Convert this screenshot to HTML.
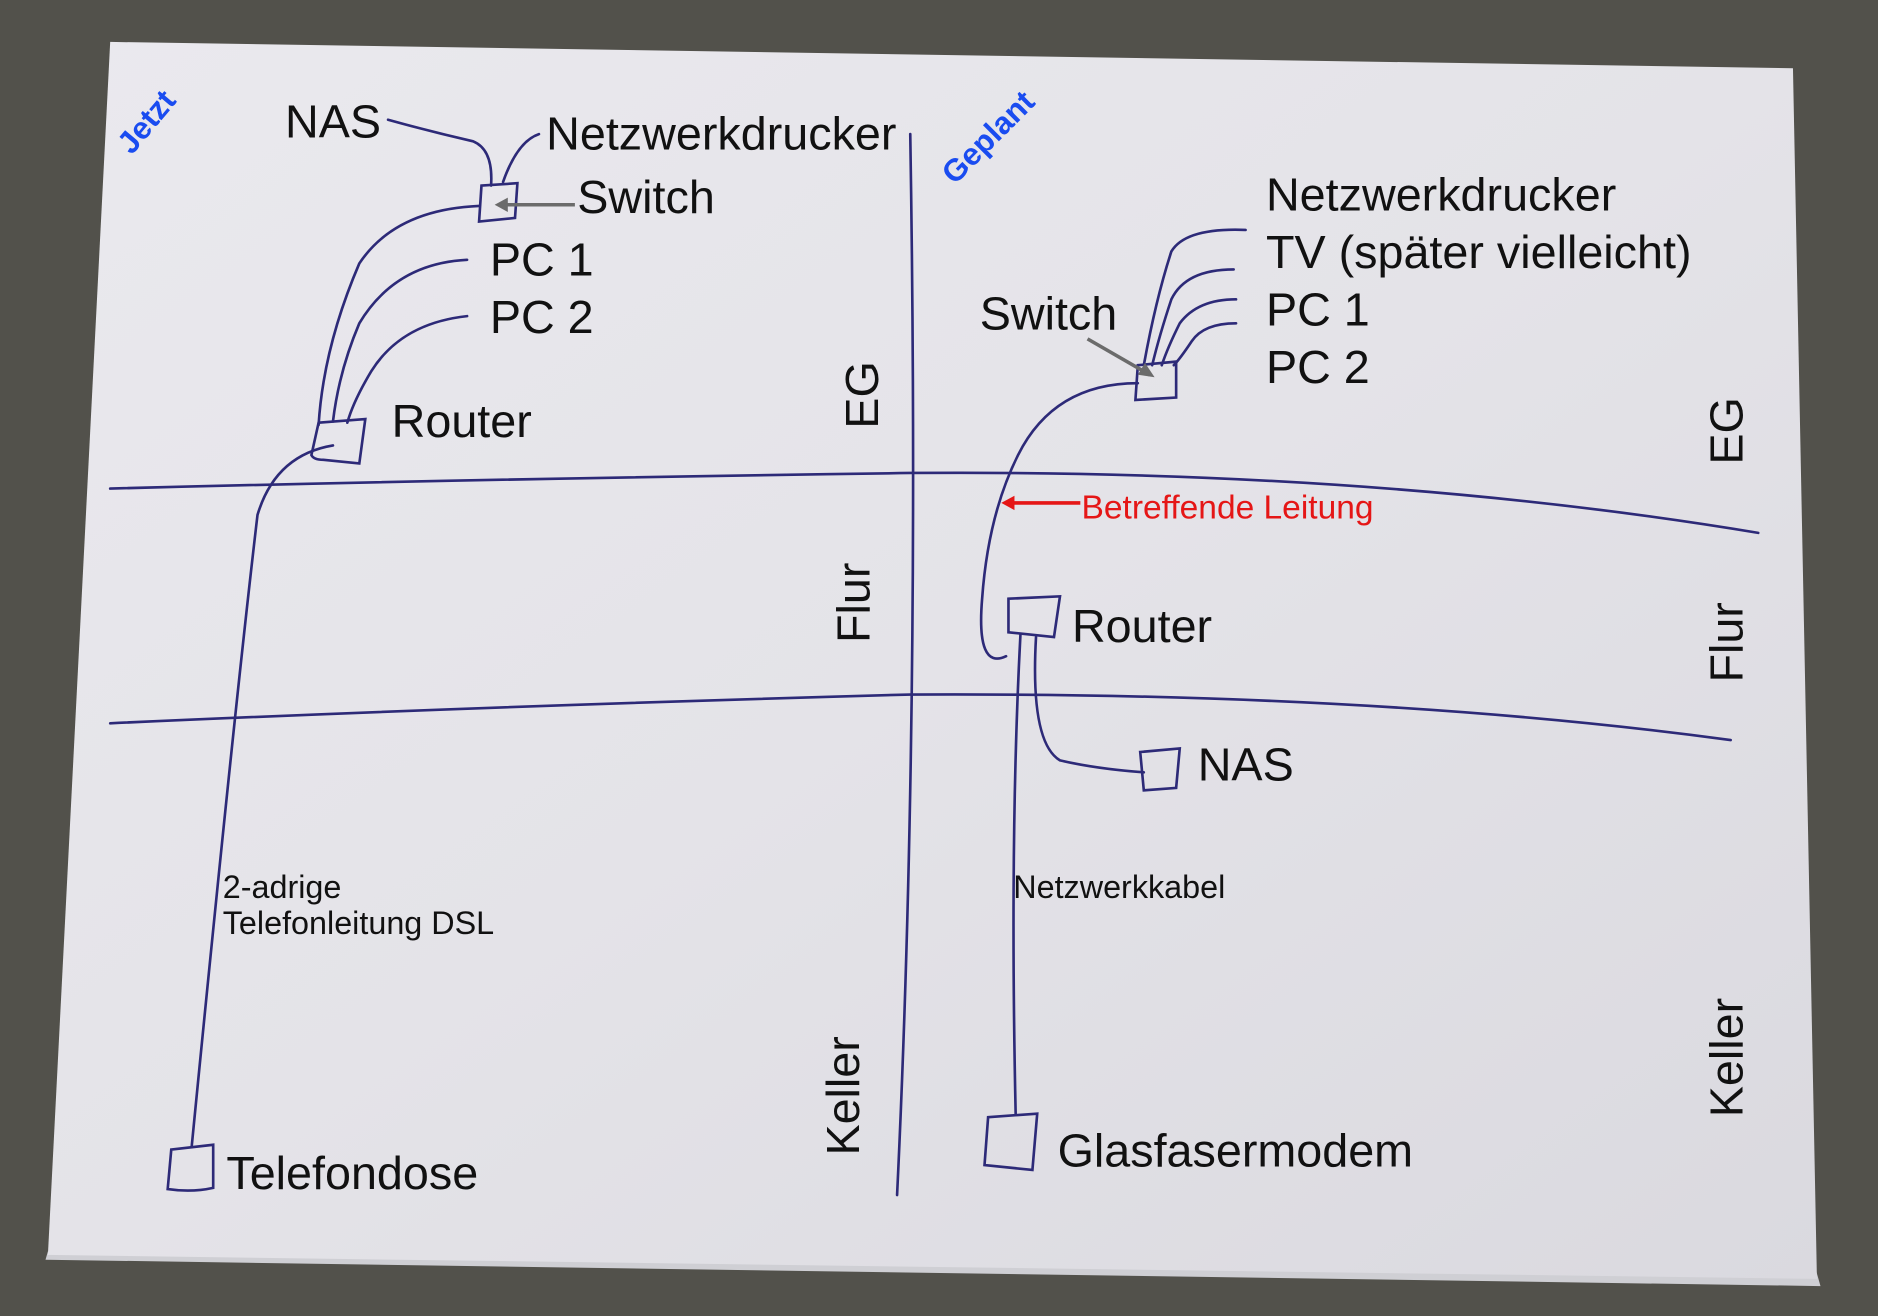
<!DOCTYPE html>
<html><head><meta charset="utf-8"><style>
html,body{margin:0;padding:0;background:#55544f;}
svg{display:block}
text{font-family:"Liberation Sans",sans-serif;}
</style></head><body>
<svg width="1878" height="1316" viewBox="0 0 1568 1099" preserveAspectRatio="none" xmlns="http://www.w3.org/2000/svg">
<defs>
<linearGradient id="pg" x1="0" y1="0" x2="1" y2="1">
<stop offset="0" stop-color="#eae9ee"/><stop offset="0.5" stop-color="#e4e3e8"/><stop offset="1" stop-color="#dad9df"/>
</linearGradient>
</defs>
<rect width="1568" height="1099" fill="#52514b"/>
<polygon points="38,1052 1520,1074 1516,1060 40,1045" fill="#cfcfd4"/>
<polygon points="92,35 1497,57 1517,1068 40,1048" fill="url(#pg)"/>
<g fill="none" stroke="#2d2a78" stroke-width="2.2" stroke-linecap="round">
<path d="M92,408 Q400,400 760,395 Q1150,392 1468,445"/>
<path d="M92,604 Q400,590 760,580 Q1150,578 1445,618"/>
<path d="M760,112 Q768,600 749,998"/>
<path d="M324,100 Q360,110 395,118 Q412,125 410,155"/>
<path d="M450,112 Q432,118 420,152"/>
<path d="M402,155 L432,153 L430,182 L400,185 Z"/>
<path d="M400,172 Q330,175 300,220 Q270,290 266,355"/>
<path d="M390,217 Q330,220 300,270 Q283,310 278,352"/>
<path d="M390,264 Q335,270 310,310 Q295,335 290,353"/>
<path d="M266,353 L305,350 L300,387 L270,384 Q262,384 260,380 Z"/>
<path d="M278,372 Q230,380 215,430 Q195,600 160,958"/>
<path d="M143,960 L178,956 L178,992 Q160,996 140,993 Z"/>
<path d="M1040,192 Q990,190 978,210 Q965,250 955,305"/>
<path d="M1030,225 Q990,225 978,250 Q968,280 962,305"/>
<path d="M1032,250 Q1000,250 985,270 Q975,290 970,305"/>
<path d="M1032,270 Q1005,270 995,285 Q985,300 980,305"/>
<path d="M950,305 L982,302 L982,332 L948,334 Z"/>
<path d="M950,320 Q880,320 850,380 Q825,430 820,500 Q815,560 840,548"/>
<path d="M842,500 L885,498 L880,532 L842,528 Z"/>
<path d="M852,530 Q843,700 848,930"/>
<path d="M865,532 Q860,620 885,635 Q915,642 955,645"/>
<path d="M952,628 L985,625 L982,658 L955,660 Z"/>
<path d="M825,933 L866,930 L862,977 L822,973 Z"/>
</g>
<line x1="480" y1="171" x2="418" y2="171" stroke="#6b6b6b" stroke-width="3"/>
<polygon points="413,171 424,165 424,177" fill="#6b6b6b"/>
<line x1="908" y1="283" x2="960" y2="313" stroke="#6b6b6b" stroke-width="3"/>
<polygon points="964,315 950,313 956,303" fill="#6b6b6b"/>
<line x1="902" y1="420" x2="842" y2="420" stroke="#e51616" stroke-width="3"/>
<polygon points="836,420 847,414 847,426" fill="#e51616"/>
<g fill="#111" font-size="39">
<text x="238" y="115">NAS</text>
<text x="456" y="125">Netzwerkdrucker</text>
<text x="482" y="178">Switch</text>
<text x="409" y="230">PC 1</text>
<text x="409" y="278">PC 2</text>
<text x="327" y="365">Router</text>
<text x="189" y="993">Telefondose</text>
<text x="1057" y="176">Netzwerkdrucker</text>
<text x="1057" y="224">TV (später vielleicht)</text>
<text x="1057" y="272">PC 1</text>
<text x="1057" y="320">PC 2</text>
<text x="818" y="275">Switch</text>
<text x="895" y="536">Router</text>
<text x="1000" y="652">NAS</text>
<text x="883" y="974">Glasfasermodem</text>
<text transform="translate(733,358) rotate(-90)">EG</text>
<text transform="translate(726,537) rotate(-90)">Flur</text>
<text transform="translate(717,965) rotate(-90)">Keller</text>
<text transform="translate(1455,388) rotate(-90)">EG</text>
<text transform="translate(1455,570) rotate(-90)">Flur</text>
<text transform="translate(1455,933) rotate(-90)">Keller</text>
</g>
<g fill="#111" font-size="27">
<text x="186" y="750">2-adrige</text>
<text x="186" y="780">Telefonleitung DSL</text>
<text x="846" y="750">Netzwerkkabel</text>
</g>
<text x="903" y="433" font-size="28" fill="#e51616">Betreffende Leitung</text>
<text transform="translate(110,130) rotate(-50)" font-size="26" font-weight="bold" fill="#1a4cf0">Jetzt</text>
<text transform="translate(797,155) rotate(-45)" font-size="26" font-weight="bold" fill="#1a4cf0">Geplant</text>
</svg>
</body></html>
